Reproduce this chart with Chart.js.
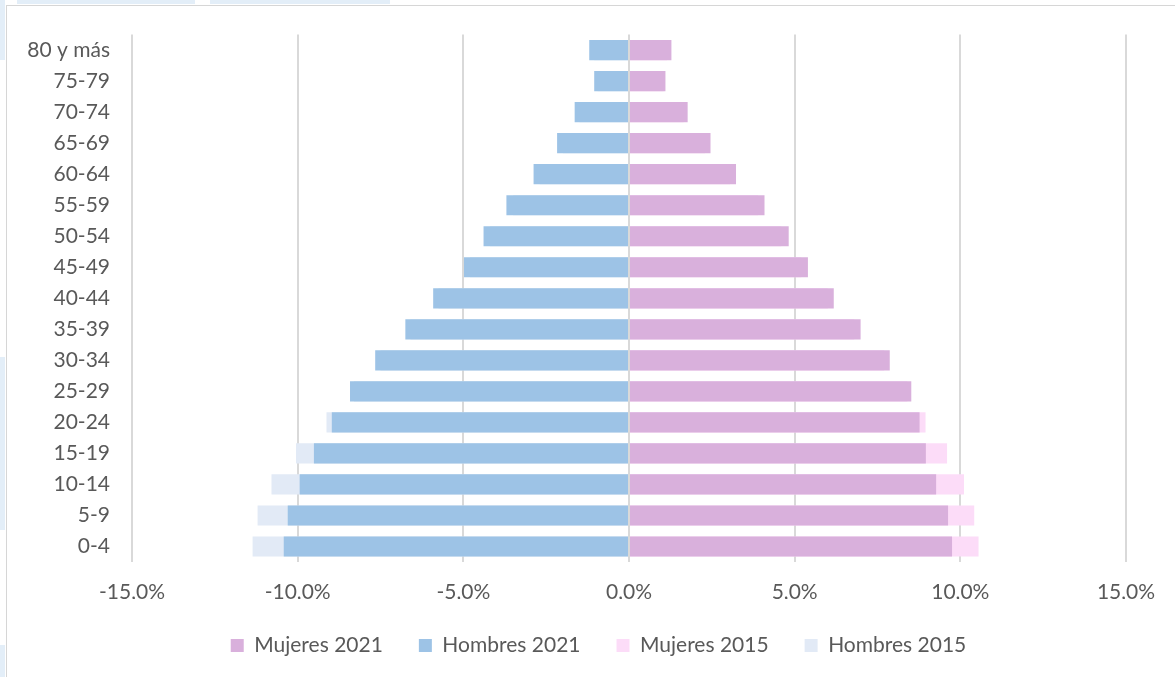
<!DOCTYPE html>
<html>
<head>
<meta charset="utf-8">
<script src="https://cdn.jsdelivr.net/npm/chart.js@4"></script>
<style>
  html, body { margin: 0; padding: 0; background: #fff; overflow: hidden; }
  #frame { position: absolute; left: 6px; top: 5px; width: 1169px; height: 672px;
           border-left: 1px solid #d6d6d6; border-top: 1px solid #d6d6d6; }
  #wrap { position: absolute; left: 7px; top: 0; width: 1168px; height: 667px; }
  .tint { position: absolute; background: #e3eef8; }
</style>
</head>
<body>
<div class="tint" style="left:17px;top:0;width:178px;height:4px"></div>
<div class="tint" style="left:210px;top:0;width:180px;height:4px"></div>
<div class="tint" style="left:0;top:0;width:5px;height:60px"></div>
<div class="tint" style="left:0;top:357px;width:5px;height:173px"></div>
<div class="tint" style="left:0;top:645px;width:5px;height:32px"></div>
<div id="frame"></div>
<div id="wrap"><canvas id="pyramid"></canvas></div>
<script>
// grupos de edad, de abajo (0-4) hacia arriba
var ageGroups = ["0-4", "5-9", "10-14", "15-19", "20-24", "25-29", "30-34", "35-39",
                 "40-44", "45-49", "50-54", "55-59", "60-64", "65-69", "70-74", "75-79", "80 y más"];

// % de la población total
var mujeres2021 = [9.75, 9.63, 9.27, 8.96, 8.77, 8.52, 7.87, 6.99, 6.18, 5.40, 4.82, 4.09, 3.23, 2.46, 1.77, 1.10, 1.28];
var hombres2021 = [10.42, 10.30, 9.94, 9.51, 8.97, 8.42, 7.66, 6.75, 5.91, 4.98, 4.39, 3.70, 2.88, 2.17, 1.64, 1.05, 1.20];
var mujeres2015 = [10.55, 10.42, 10.11, 9.60, 8.95, 8.40, 7.70, 6.80, 6.00, 5.20, 4.60, 3.90, 3.05, 2.30, 1.65, 1.05, 1.15];
var hombres2015 = [11.36, 11.21, 10.79, 10.05, 9.13, 8.30, 7.50, 6.60, 5.75, 4.80, 4.20, 3.50, 2.70, 2.00, 1.50, 0.95, 1.05];

var xTicks = [-15, -10, -5, 0, 5, 10, 15];

function neg(arr) { return arr.map(function (v) { return -v; }); }

var textColor = "#595959";
var fontFamily = "Lato, 'Open Sans', sans-serif";

// la leyenda va centrada en todo el cuadro, no solo en el área del gráfico
var legendShift = {
    id: "legendShift",
    afterLayout: function (chart) {
        chart.legend.left += 32;
        chart.legend.right += 32;
    }
};

var canvasElement = document.getElementById("pyramid");
var config = {
    type: "bar",
    data: {
        labels: ageGroups,
        datasets: [{
            label: "Mujeres 2021",
            data: mujeres2021,
            backgroundColor: "#d9b0dc",
        }, {
            label: "Hombres 2021",
            data: neg(hombres2021),
            backgroundColor: "#9dc3e6",
        }, {
            label: "Mujeres 2015",
            data: mujeres2015,
            backgroundColor: "#fcdcf8",
        }, {
            label: "Hombres 2015",
            data: neg(hombres2015),
            backgroundColor: "#e2eaf6",
        }],
    },
    options: {
        indexAxis: "y",
        responsive: true,
        maintainAspectRatio: false,
        animation: false,
        grouped: false,
        categoryPercentage: 0.65,
        barPercentage: 1,
        layout: { padding: { left: 0, right: 49, top: 22, bottom: 1 } },
        scales: {
            x: {
                min: xTicks[0],
                max: xTicks[xTicks.length - 1],
                afterBuildTicks: function (axis) {
                    axis.ticks = xTicks.map(function (v) { return { value: v }; });
                },
                afterFit: function (axis) { axis.height = 37; },
                grid: { color: "#d9d9d9", lineWidth: 2, drawTicks: false },
                border: { display: false },
                ticks: {
                    padding: 18,
                    color: textColor,
                    font: { family: fontFamily, size: 21 },
                    callback: function (v) { return v.toFixed(1).replace(".", ",") + "%"; }
                }
            },
            y: {
                reverse: true,
                afterFit: function (axis) { axis.width = 125; },
                grid: { display: false, drawTicks: false },
                border: { display: false },
                ticks: {
                    padding: 22,
                    autoSkip: false,
                    color: textColor,
                    font: { family: fontFamily, size: 21 }
                }
            }
        },
        plugins: {
            tooltip: { enabled: false },
            legend: {
                position: "bottom",
                labels: {
                    boxWidth: 13,
                    boxHeight: 13,
                    padding: 36,
                    color: textColor,
                    font: { family: fontFamily, size: 21 }
                }
            }
        }
    },
    plugins: [legendShift]
};

var pyramidChart = new Chart(canvasElement, config);
</script>
</body>
</html>
